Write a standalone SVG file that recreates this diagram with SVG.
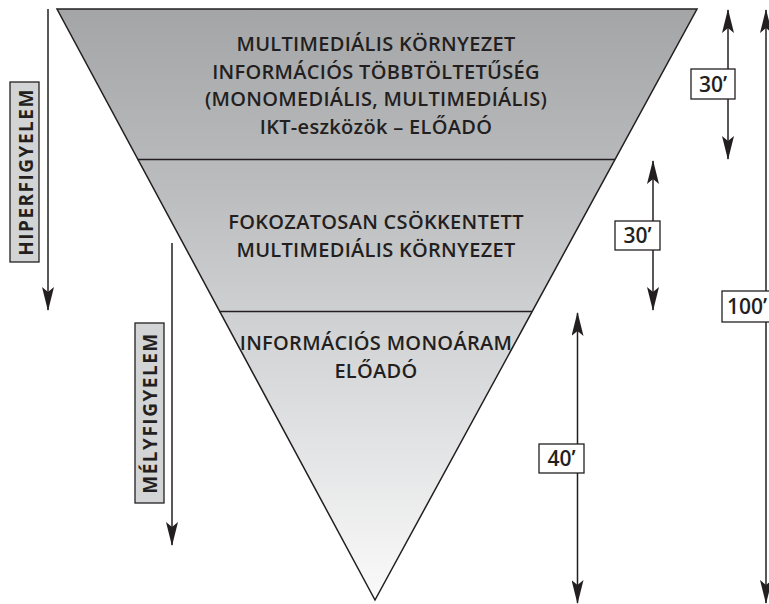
<svg xmlns="http://www.w3.org/2000/svg" width="769" height="604" viewBox="0 0 769 604">
<style>
.t{font-family:"Open Sans","Liberation Sans",sans-serif;font-weight:600;font-size:20px;letter-spacing:0.3px;fill:#231f20;text-anchor:middle}
.n{font-family:"Open Sans","Liberation Sans",sans-serif;font-weight:600;font-size:21px;fill:#231f20;text-anchor:middle}
.v{font-family:"Open Sans","Liberation Sans",sans-serif;font-weight:700;font-size:19px;letter-spacing:1.5px;fill:#231f20;text-anchor:middle}
.ln{stroke:#231f20;stroke-width:1.5;fill:none}
.box{fill:#fff;stroke:#231f20;stroke-width:1.3}
.gbox{fill:#d3d4d5;stroke:#231f20;stroke-width:1.3}
</style>
<defs>
<linearGradient id="g" x1="0" y1="9" x2="0" y2="600" gradientUnits="userSpaceOnUse">
<stop offset="0" stop-color="#a4a5a7"/>
<stop offset="0.3" stop-color="#bbbcbe"/>
<stop offset="0.55" stop-color="#d2d3d5"/>
<stop offset="1" stop-color="#fafafa"/>
</linearGradient>
<marker id="ah" viewBox="0 0 24 12" refX="23" refY="6" markerWidth="24" markerHeight="12" orient="auto-start-reverse" markerUnits="userSpaceOnUse">
<path d="M0,0 L24,6 L0,12 L5,6 Z" fill="#231f20"/>
</marker>
</defs>
<g id="pyramid">
<path d="M57,9 L697,9 L375,600 Z" fill="url(#g)" stroke="#231f20" stroke-width="1.5" stroke-linejoin="miter"/>
<line x1="137.5" y1="159.5" x2="615" y2="159.5" class="ln"/>
<line x1="219" y1="311.5" x2="532" y2="311.5" class="ln"/>
</g>
<g id="layer1">
<text class="t" x="376" y="51">MULTIMEDIÁLIS KÖRNYEZET</text>
<text class="t" x="376" y="79">INFORMÁCIÓS TÖBBTÖLTETŰSÉG</text>
<text class="t" x="376" y="106">(MONOMEDIÁLIS, MULTIMEDIÁLIS)</text>
<text class="t" x="376" y="134">IKT-eszközök – ELŐADÓ</text>
</g>
<g id="layer2">
<text class="t" x="376" y="229">FOKOZATOSAN CSÖKKENTETT</text>
<text class="t" x="376" y="257">MULTIMEDIÁLIS KÖRNYEZET</text>
</g>
<g id="layer3">
<text class="t" x="376" y="350">INFORMÁCIÓS MONOÁRAM</text>
<text class="t" x="376" y="378">ELŐADÓ</text>
</g>
<g id="connectors">
<line x1="48" y1="9" x2="48" y2="310" class="ln" marker-end="url(#ah)"/>
<line x1="172" y1="243" x2="172" y2="545" class="ln" marker-end="url(#ah)"/>
<line x1="728" y1="10" x2="728" y2="159" class="ln" marker-start="url(#ah)" marker-end="url(#ah)"/>
<line x1="653" y1="161" x2="653" y2="310" class="ln" marker-start="url(#ah)" marker-end="url(#ah)"/>
<line x1="577.5" y1="313" x2="577.5" y2="603" class="ln" marker-start="url(#ah)" marker-end="url(#ah)"/>
<line x1="766" y1="10" x2="766" y2="603" class="ln" marker-start="url(#ah)" marker-end="url(#ah)"/>
</g>
<g id="label-hiper">
<rect class="gbox" x="10" y="82" width="29" height="180"/>
<text class="v" transform="translate(33,172) rotate(-90)">HIPERFIGYELEM</text>
</g>
<g id="label-mely">
<rect class="gbox" x="135" y="323" width="29" height="180"/>
<text class="v" transform="translate(157,413) rotate(-90)">MÉLYFIGYELEM</text>
</g>
<g id="label-30a">
<rect class="box" x="691" y="69" width="44" height="30"/>
<text class="n" x="713" y="92">30’</text>
</g>
<g id="label-30b">
<rect class="box" x="615" y="221" width="45" height="29"/>
<text class="n" x="637.5" y="243">30’</text>
</g>
<g id="label-40">
<rect class="box" x="539" y="444" width="45" height="29"/>
<text class="n" x="561.5" y="466">40’</text>
</g>
<g id="label-100">
<rect class="box" x="722" y="291" width="52" height="31"/>
<text class="n" x="727" y="314" style="text-anchor:start">100’</text>
</g>
</svg>
